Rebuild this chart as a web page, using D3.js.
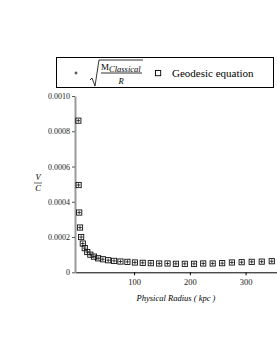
<!DOCTYPE html>
<html>
<head>
<meta charset="utf-8">
<script src="https://cdn.jsdelivr.net/npm/d3@7/dist/d3.min.js"></script>
<style>
  html, body { margin: 0; padding: 0; background: #fff; }
  svg { display: block; font-family: "Liberation Serif", "DejaVu Serif", serif; }
</style>
</head>
<body>
<div id="chart"></div>
<script>
// physical radius (kpc)
const radius = [0, 0.5, 1.5, 3, 5, 8, 11.5, 16, 21.5, 28, 35.5, 44, 53.5, 64, 75.5, 88,
  101.5, 115.5, 130, 145, 160, 175, 191, 207.5, 224, 241, 258, 275.5, 293, 311, 329, 347];
// V / C from sqrt(M_classical / R)
const classical = [0.00086, 0.000495, 0.000339, 0.000254, 0.0002, 0.000163, 0.000137, 0.000115,
  0.0001, 0.0000889, 0.0000796, 0.000074, 0.0000685, 0.0000648, 0.0000611, 0.0000593,
  0.0000556, 0.0000537, 0.0000519, 0.00005, 0.00005, 0.0000481, 0.0000481, 0.0000481,
  0.00005, 0.00005, 0.0000519, 0.0000556, 0.0000574, 0.0000593, 0.0000605, 0.000063];
// V / C from the geodesic equation
const geodesic = [0.00086, 0.000495, 0.000339, 0.000254, 0.0002, 0.000163, 0.000137, 0.000115,
  0.0001, 0.0000889, 0.0000796, 0.000074, 0.0000685, 0.0000648, 0.0000611, 0.0000593,
  0.0000556, 0.0000537, 0.0000519, 0.00005, 0.00005, 0.0000481, 0.0000481, 0.0000481,
  0.00005, 0.00005, 0.0000519, 0.0000556, 0.0000574, 0.0000593, 0.0000605, 0.000063];
const xTicks = [100, 200, 300];
const yTicks = [0, 0.0002, 0.0004, 0.0006, 0.0008, 0.0010];

const width = 277, height = 358;
const svg = d3.select('#chart').append('svg')
  .attr('width', width).attr('height', height);

const x = d3.scaleLinear().domain([-6, 365]).range([75, 281.8]);
const y = d3.scaleLinear().domain([0, 0.001]).range([272.3, 96]);

// x axis
const axisX = svg.append('g')
  .attr('transform', `translate(0,${y(0)})`)
  .call(d3.axisBottom(x).tickValues(xTicks).tickSize(3).tickSizeOuter(0).tickPadding(4));
axisX.select('.domain').attr('stroke', '#000').attr('stroke-width', 1);
axisX.selectAll('line').attr('stroke', '#000');
axisX.selectAll('text').attr('font-size', 8.5).attr('font-family', '"Liberation Serif", serif').attr('fill', '#222');

// y axis
const axisY = svg.append('g')
  .attr('transform', `translate(${x(-6)},0)`)
  .call(d3.axisLeft(y).tickValues(yTicks).tickSize(3).tickSizeOuter(0).tickPadding(2)
    .tickFormat((d) => (d === 0 ? '0' : d3.format('.4f')(d))));
axisY.select('.domain').attr('stroke', '#9a9a9a').attr('stroke-width', 2);
axisY.selectAll('line').attr('stroke', '#555');
axisY.selectAll('text').attr('font-size', 8).attr('font-family', '"Liberation Serif", serif').attr('fill', '#222');

// markers: squares (geodesic) and plus signs (classical)
const pts = svg.append('g');
pts.selectAll('rect').data(radius.map((r, i) => [r, geodesic[i]])).join('rect')
  .attr('x', (d) => x(d[0]) - 2.6).attr('y', (d) => y(d[1]) - 2.6)
  .attr('width', 5.2).attr('height', 5.2)
  .attr('fill', 'none').attr('stroke', '#111').attr('stroke-width', 0.9);
pts.selectAll('path').data(radius.map((r, i) => [r, classical[i]])).join('path')
  .attr('d', (d) => `M${x(d[0]) - 1.8},${y(d[1])}H${x(d[0]) + 1.8}M${x(d[0])},${y(d[1]) - 1.8}V${y(d[1]) + 1.8}`)
  .attr('stroke', '#111').attr('stroke-width', 0.8).attr('fill', 'none');

// y title V / C
const yTitle = svg.append('g').attr('transform', 'translate(38,183)')
  .attr('font-style', 'italic').attr('font-size', 8.5).attr('text-anchor', 'middle');
yTitle.append('text').attr('y', -3).text('V');
yTitle.append('line').attr('x1', -4).attr('x2', 4).attr('stroke', '#000').attr('stroke-width', 0.6);
yTitle.append('text').attr('y', 8).text('C');

// x title
svg.append('text').attr('x', 176).attr('y', 301)
  .attr('text-anchor', 'middle').attr('font-size', 8.5).attr('font-style', 'italic')
  .text('Physical  Radius ( kpc )');

// legend
const legend = svg.append('g');
legend.append('rect').attr('x', 56.5).attr('y', 57.5).attr('width', 217).attr('height', 30)
  .attr('fill', 'none').attr('stroke', '#000').attr('stroke-width', 1);
legend.append('path').attr('d', 'M74.5,73H77.5M76,71.5V74.5').attr('stroke', '#000').attr('stroke-width', 0.8);
legend.append('path').attr('d', 'M90,80L92,78L95,86L99,60H143')
  .attr('fill', 'none').attr('stroke', '#000').attr('stroke-width', 0.8);
legend.append('line').attr('x1', 101).attr('x2', 142).attr('y1', 73).attr('y2', 73)
  .attr('stroke', '#000').attr('stroke-width', 0.8);
legend.append('text').attr('x', 101).attr('y', 70).attr('font-size', 9).text('M');
legend.append('text').attr('x', 109).attr('y', 72).attr('font-size', 8.5).attr('font-style', 'italic').text('Classical');
legend.append('text').attr('x', 121).attr('y', 84).attr('font-size', 8.5).attr('font-style', 'italic')
  .attr('text-anchor', 'middle').text('R');
legend.append('rect').attr('x', 155.5).attr('y', 70.5).attr('width', 5.2).attr('height', 5.2)
  .attr('fill', 'none').attr('stroke', '#000').attr('stroke-width', 0.9);
legend.append('text').attr('x', 172).attr('y', 76.5).attr('font-size', 11).text('Geodesic equation');
</script>
</body>
</html>
